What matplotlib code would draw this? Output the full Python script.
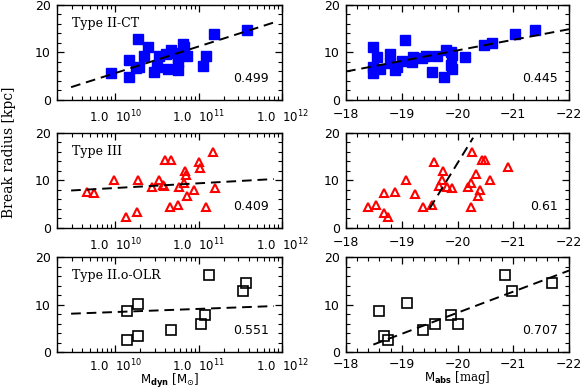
import numpy as np
import matplotlib
matplotlib.use('Agg')
from matplotlib import pyplot as plt
from matplotlib.ticker import MultipleLocator, LogLocator, NullFormatter

# --- data (log10 Mdyn, Mabs, break radius) ---
ct_logm = [9.95, 10.16, 10.17, 10.27, 10.25, 10.28, 10.35, 10.39, 10.46, 10.50, 10.53, 10.63, 10.61,
           10.67, 10.69, 10.75, 10.75, 10.75, 10.81, 10.82, 10.86, 11.05, 11.09, 11.18, 11.58]
ct_rm = [5.6, 4.8, 8.4, 12.8, 6.7, 7.0, 9.3, 11.2, 5.8, 6.9, 9.3, 6.6, 9.7,
         10.5, 9.8, 9.1, 7.9, 6.3, 11.8, 11.1, 9.3, 7.2, 9.3, 13.9, 14.7]
ct_mabs = [-18.49, -18.48, -18.48, -18.55, -18.61, -18.79, -18.79, -18.88, -18.92, -19.01, -19.05, -19.18,
           -19.21, -19.36, -19.44, -19.54, -19.63, -19.75, -19.79, -19.88, -19.90, -19.88, -19.90, -20.13,
           -20.47, -20.61, -21.03, -21.39]
ct_ra = [11.1, 7.0, 5.6, 9.1, 6.5, 9.7, 7.7, 6.3, 6.9, 8.3, 12.6, 8.1,
         9.0, 8.8, 9.3, 5.8, 9.3, 4.8, 10.5, 10.2, 9.5, 7.4, 6.5, 9.1,
         11.6, 11.9, 13.9, 14.7]

t3_logm = [9.66, 9.74, 9.98, 10.13, 10.27, 10.26, 10.44, 10.52, 10.57, 10.58, 10.60, 10.67, 10.66,
           10.75, 10.77, 10.82, 10.83, 10.85, 10.86, 10.94, 11.00, 11.02, 11.09, 11.17, 11.19]
t3_rm = [7.6, 7.3, 10.2, 2.4, 10.1, 3.3, 8.6, 10.0, 9.1, 8.8, 14.3, 14.3, 4.4,
         4.8, 8.6, 9.4, 11.9, 11.2, 6.7, 8.1, 13.8, 12.7, 4.5, 15.9, 8.4]
t3_mabs = [-18.40, -18.54, -18.69, -18.69, -18.76, -18.87, -19.08, -19.24, -19.38, -19.55, -19.57, -19.67,
           -19.72, -19.74, -19.82, -19.91, -20.19, -20.25, -20.25, -20.26, -20.33, -20.36, -20.40, -20.44,
           -20.49, -20.59, -20.90]
t3_ra = [4.5, 4.8, 7.3, 3.2, 2.4, 7.6, 10.1, 7.2, 4.4, 4.8, 13.8, 8.9,
         10.0, 12.0, 8.7, 8.5, 8.7, 9.4, 4.5, 15.9, 11.3, 6.7, 8.0, 14.3,
         14.3, 10.2, 12.8]

olr_logm = [10.14, 10.14, 10.27, 10.27, 10.67, 11.03, 11.07, 11.12, 11.53, 11.57]
olr_rm = [8.6, 2.6, 10.2, 3.5, 4.6, 6.0, 7.9, 16.3, 12.8, 14.5]
olr_mabs = [-18.60, -18.69, -18.76, -19.09, -19.38, -19.60, -19.88, -20.00, -20.86, -20.97, -21.70]
olr_ra = [8.6, 3.5, 2.6, 10.3, 4.6, 6.0, 7.9, 6.0, 16.3, 12.8, 14.5]

# linear fits: r = a + b*(logM - 10) and r = a + b*(Mabs + 20)
fit_m_a = [5.67, 8.42, 8.45]
fit_m_b = [5.60, 0.99, 0.66]
fit_m_range = [(9.47, 11.90), (9.47, 11.90), (9.47, 11.90)]
fit_a_a = [10.45, 13.65, 8.30]
fit_a_b = [-2.225, -19.1, -4.44]
fit_a_range = [(-18.0, -22.0), (-19.5, -20.28), (-18.49, -22.0)]

labels = ['Type II-CT', 'Type III', 'Type II.o-OLR']
corr_m = ['0.499', '0.409', '0.551']
corr_a = ['0.445', '0.61', '0.707']

fig = plt.figure(figsize=(5.83, 3.90), dpi=100)

rows_bottom = [0.7436, 0.4154, 0.097]
h = 0.2436
xpads = [6, 6, 4]

styles = [
    dict(marker='s', ms=7.5, mfc='#0000ff', mec='#0000ff', ls='none'),
    dict(marker='^', ms=6, mfc='none', mec='#ff0000', mew=1.5, ls='none'),
    dict(marker='s', ms=6.5, mfc='none', mec='black', mew=1.2, ls='none'),
]
data_m = [(ct_logm, ct_rm), (t3_logm, t3_rm), (olr_logm, olr_rm)]
data_a = [(ct_mabs, ct_ra), (t3_mabs, t3_ra), (olr_mabs, olr_ra)]


def style_axis(ax, xpad):
    ax.set_ylim(0, 20)
    ax.yaxis.set_major_locator(MultipleLocator(10))
    ax.yaxis.set_minor_locator(MultipleLocator(2))
    ax.tick_params(which='both', direction='in', top=True, right=True, labelsize=9, pad=4.5)
    ax.tick_params(axis='x', pad=xpad)
    ax.tick_params(which='major', length=5, width=0.9)
    ax.tick_params(which='minor', length=3, width=0.8)
    for s in ax.spines.values():
        s.set_linewidth(1.0)


for i in range(3):
    # left: dynamical mass
    ax = fig.add_axes([0.0978, rows_bottom[i], 0.386, h])
    ax.set_xscale('log')
    x, y = data_m[i]
    ax.plot(10 ** np.array(x), y, **styles[i])
    lx = np.linspace(*fit_m_range[i], 50)
    ax.plot(10 ** lx, fit_m_a[i] + fit_m_b[i] * (lx - 10), 'k--', lw=1.4, dashes=(5, 3))
    style_axis(ax, xpads[i])
    ax.xaxis.set_minor_locator(LogLocator(base=10, subs=np.arange(2, 10)))
    ax.xaxis.set_minor_formatter(NullFormatter())
    ax.set_xticks([1e10, 1e11, 1e12])
    ax.set_xticklabels(['1.0  $10^{10}$', '1.0  $10^{11}$', '1.0  $10^{12}$'], fontsize=8.5)
    ax.set_xlim(2e9, 1e12)
    ax.text(0.067, 0.81, labels[i], transform=ax.transAxes, family='DejaVu Serif',
            fontsize=9, va='center', ha='left')
    ax.text(0.942, 0.23, corr_m[i], transform=ax.transAxes, fontsize=9,
            va='center', ha='right')
    if i == 2:
        ax.set_xlabel(r'$\mathrm{M}_{\mathbf{dyn}}$ [$\mathrm{M}_{\odot}$]', family='DejaVu Serif',
                      fontsize=8.5, labelpad=-2)

    # right: absolute magnitude
    ax = fig.add_axes([0.5935, rows_bottom[i], 0.3825, h])
    ax.set_xlim(-18, -22)
    x, y = data_a[i]
    ax.plot(x, y, **styles[i])
    lx = np.linspace(*fit_a_range[i], 50)
    ax.plot(lx, fit_a_a[i] + fit_a_b[i] * (lx + 20), 'k--', lw=1.4, dashes=(5, 3))
    style_axis(ax, xpads[i])
    ax.xaxis.set_major_locator(MultipleLocator(1))
    ax.xaxis.set_minor_locator(MultipleLocator(0.2))
    ax.text(0.951, 0.23, corr_a[i], transform=ax.transAxes, fontsize=9,
            va='center', ha='right')
    if i == 2:
        ax.set_xlabel(r'$\mathrm{M}_{\mathbf{abs}}$ [mag]', family='DejaVu Serif',
                      fontsize=8.5, labelpad=-1)

fig.text(0.016, 0.61, 'Break radius [kpc]', rotation=90, family='DejaVu Serif',
         fontsize=10, va='center', ha='center')

plt.savefig('out.png', dpi=100)
